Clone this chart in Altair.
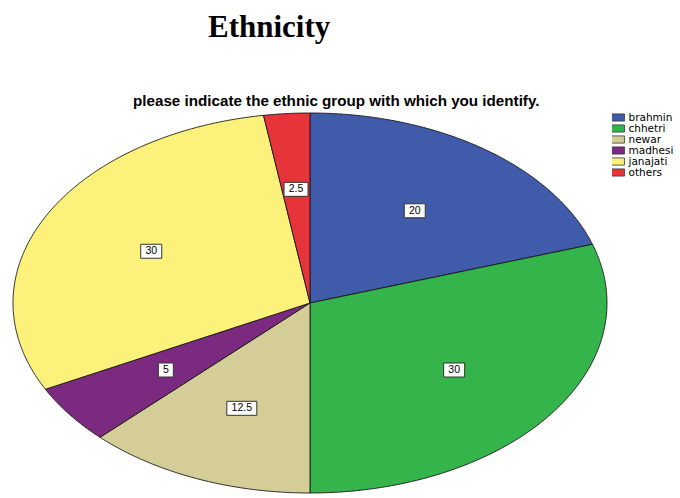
import math
import pandas as pd
import altair as alt

# ---- data ----
groups = ["brahmin", "chhetri", "newar", "madhesi", "janajati", "others"]
percents = [20, 30, 12.5, 5, 30, 2.5]
value_labels = ["20", "30", "12.5", "5", "30", "2.5"]
colors = ["#3F5BAA", "#34B44A", "#D5CD98", "#7C2A80", "#FCF27B", "#E7343B"]

title_text = "Ethnicity"
subtitle_text = "please indicate the ethnic group with which you identify."

# ---- build pie wedge outlines (unit circle, stretched to an ellipse by the scales) ----
rows = []
lab_rows = []
total = float(sum(percents))
cum = 0.0
for g, p, l in zip(groups, percents, value_labels):
    a0 = cum / total * 2 * math.pi
    a1 = (cum + p) / total * 2 * math.pi
    n = max(2, int(math.ceil((a1 - a0) / (math.pi / 360))))
    rows.append(dict(group=g, i=0, x=0.0, y=0.0))
    for k in range(n + 1):
        t = a0 + (a1 - a0) * k / n
        rows.append(dict(group=g, i=k + 1, x=math.sin(t), y=math.cos(t)))
    rows.append(dict(group=g, i=n + 2, x=0.0, y=0.0))
    am = (a0 + a1) / 2
    lab_rows.append(dict(group=g, label=l, x=0.6 * math.sin(am), y=0.6 * math.cos(am)))
    cum += p

wedges = pd.DataFrame(rows)
labs = pd.DataFrame(lab_rows)

xs = alt.Scale(domain=[-1.0438, 1.2458], nice=False, zero=False)
ys = alt.Scale(domain=[-1.0316, 1.0], nice=False, zero=False)

color = alt.Color(
    "group:N",
    sort=groups,
    scale=alt.Scale(domain=groups, range=colors),
    legend=alt.Legend(
        title=None,
        orient="none",
        legendX=612,
        legendY=0,
        symbolType="M-1.6,-0.8H1.6V0.8H-1.6Z",
        symbolSize=81,
        symbolStrokeColor="#333333",
        symbolStrokeWidth=0.8,
        labelFont="DejaVu Sans",
        labelFontSize=10.5,
        labelColor="black",
        labelOffset=6,
        clipHeight=9,
        rowPadding=0,
        padding=0,
    ),
)

pie = alt.Chart(wedges).mark_line(
    filled=True, stroke="#1a1a1a", strokeWidth=0.9, strokeJoin="round"
).encode(
    x=alt.X("x:Q", scale=xs, axis=None),
    y=alt.Y("y:Q", scale=ys, axis=None),
    color=color,
    detail="group:N",
    order=alt.Order("i:Q"),
)

boxes = alt.Chart(labs).transform_calculate(
    dots="indexof(datum.label, '.') >= 0 ? 1 : 0",
).transform_calculate(
    hw="((length(datum.label) - datum.dots) * 6 + datum.dots * 3 + 9) / 40",
).transform_calculate(
    box="'M' + (-datum.hw) + ',-0.35H' + datum.hw + 'V0.35H' + (-datum.hw) + 'Z'",
).mark_point(
    filled=True, fill="white", stroke="#333333", strokeWidth=1, size=1600, opacity=1
).encode(
    x=alt.X("x:Q", scale=xs, axis=None),
    y=alt.Y("y:Q", scale=ys, axis=None),
    shape=alt.Shape("box:N", scale=None),
)

texts = alt.Chart(labs).mark_text(
    font="Liberation Sans", fontSize=10.5, color="black"
).encode(
    x=alt.X("x:Q", scale=xs, axis=None),
    y=alt.Y("y:Q", scale=ys, axis=None),
    text="label:N",
)

inner = alt.layer(pie, boxes, texts).properties(
    width=680,
    height=386,
    title=alt.TitleParams(
        text=subtitle_text,
        anchor="start",
        dx=133,
        font="Liberation Sans",
        fontSize=15.2,
        fontWeight="bold",
        color="black",
        offset=3,
    ),
)

chart = alt.vconcat(inner).properties(
    title=alt.TitleParams(
        text=title_text,
        anchor="start",
        dx=208,
        font="Liberation Serif",
        fontSize=31,
        fontWeight="bold",
        color="black",
        offset=50,
    ),
    padding={"left": 0, "top": 12, "right": 0, "bottom": 0},
).configure_view(stroke=None).configure_concat(spacing=0)

chart.save("out.html", embed_options={"renderer": "svg", "actions": False})
